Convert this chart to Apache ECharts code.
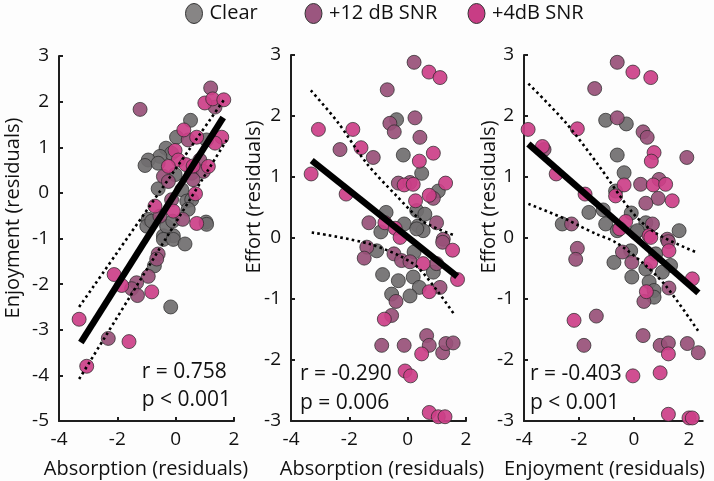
<!DOCTYPE html>
<html><head><meta charset="utf-8">
<script src="https://cdn.jsdelivr.net/npm/echarts@6/dist/echarts.min.js"></script>
<style>html,body{margin:0;padding:0;background:#fdfdfd;}#c{width:714px;height:481px;}</style>
</head><body><div id="c"></div>
<script>
// ---- categories / labels ----
const groups = ['Clear', '+12 dB SNR', '+4dB SNR'];
const xTicks = [-4, -2, 0, 2];
const yTicks1 = [-5, -4, -3, -2, -1, 0, 1, 2, 3];
const yTicks23 = [-3, -2, -1, 0, 1, 2, 3];
const xTitles = ['Absorption (residuals)', 'Absorption (residuals)', 'Enjoyment (residuals)'];
const yTitles = ['Enjoyment (residuals)', 'Effort (residuals)', 'Effort (residuals)'];
const statsR = ['r = 0.758', 'r = -0.290', 'r = -0.403'];
const statsP = ['p < 0.001', 'p = 0.006', 'p < 0.001'];

// ---- panel 1: Absorption vs Enjoyment ----
const p1Clear = [[0.51,1.59],[0.03,1.22],[1.06,1.16],[-0.33,0.98],[-0.14,0.87],[-0.54,0.8],[-0.94,0.72],[-1.05,0.60],[-0.6,0.65],[-0.02,0.4],[-0.6,0.09],[0.21,0.07],[0.38,-0.18],[0.55,-0.15],[0.43,-0.36],[-0.94,-0.58],[1.04,-0.64],[-0.99,-0.73],[-0.08,-0.94],[-0.42,-0.94],[-0.82,-0.62],[-0.31,-0.73],[-0.1,-0.62],[1.06,-0.69],[-0.42,-1.02],[-0.08,-1.02],[0.32,-1.12],[-0.73,-1.6],[-0.17,-2.5]];
const p1Mid = [[-1.22,1.83],[1.2,2.30],[1.35,1.88],[0.43,1.16],[0.83,0.72],[0.55,0.43],[0.95,0.47],[-0.42,0.36],[-0.25,0.25],[0.6,0.29],[-0.14,-0.15],[-0.54,-0.51],[0.24,-0.58],[-0.6,-1.34],[-0.65,-1.45],[-0.94,-1.83],[-1.34,-1.97],[-1.51,-2.1],[-1.31,-2.25],[-2.31,-3.19]];
const p1Low = [[1.0,1.97],[1.27,2.06],[1.65,2.04],[0.28,1.38],[0.72,1.22],[1.58,1.22],[1.35,1.09],[-0.02,0.93],[0.09,0.72],[-0.25,0.58],[0.35,0.62],[0.6,0.59],[1.12,0.58],[0.68,-0.02],[-0.71,-0.29],[-0.08,-0.40],[0.72,-0.67],[-2.11,-1.79],[-1.85,-2.03],[-0.82,-2.17],[-3.31,-2.77],[-1.6,-3.26],[-3.05,-3.80]];
const p1Fit = [[-3.25,-3.28],[1.63,1.65]];
const p1Upper = [[-3.31,-2.5],[1.69,2.07]];
const p1Lower = [[-3.31,-4.08],[1.75,1.16]];

// ---- panel 2: Absorption vs Effort ----
const p2Clear = [[-0.38,1.94],[-0.15,1.36],[0.48,1.06],[1.05,0.77],[0.31,0.45],[0.59,0.39],[-0.74,0.42],[-0.12,0.23],[0.36,0.2],[-0.92,0.10],[0.53,0.12],[0.31,0.15],[-1.06,-0.21],[0.22,-0.23],[0.88,-0.56],[-0.86,-0.6],[-0.32,-0.70],[0.19,-0.64],[0.4,-0.81],[-0.55,-0.92],[0.08,-0.95]];
const p2Mid = [[0.22,2.88],[-0.70,2.43],[0.25,1.97],[-0.61,1.88],[-0.46,1.74],[0.42,1.65],[-2.32,1.45],[-1.18,1.32],[-0.32,0.9],[0.08,0.91],[0.88,0.65],[-1.33,0.25],[0.99,0.25],[1.22,-0.02],[-1.4,-0.15],[-1.49,-0.33],[-0.47,-0.26],[-0.21,-0.37],[0.08,-0.39],[0.99,-0.42],[1.2,-0.07],[1.11,-0.81],[-0.4,-1.04],[-0.55,-1.27],[-0.89,-1.76],[-0.12,-1.76],[0.65,-1.6],[0.74,-1.76],[1.2,-1.88],[1.31,-1.73],[1.56,-1.72]];
const p2Low = [[0.73,2.72],[1.11,2.63],[-3.06,1.78],[-1.88,1.78],[-1.6,1.48],[0.88,1.39],[0.4,1.26],[-3.31,1.05],[-0.12,0.87],[0.19,0.88],[1.3,0.9],[-2.11,0.72],[0.74,0.70],[0.27,0.61],[-0.78,0.25],[-0.43,0.16],[-0.26,0.01],[0.53,-0.42],[1.54,-0.2],[1.71,-0.68],[0.74,-0.88],[-0.8,-1.33],[0.48,-1.9],[-0.09,-2.18],[0.1,-2.26],[0.74,-2.86],[1.05,-2.93],[1.28,-2.93]];
const p2Fit = [[-3.29,1.27],[1.70,-0.63]];
const p2Upper = [[-3.32,2.42],[-2.4,1.9],[-1.4,1.22],[-0.38,0.69],[0.53,0.27],[1.62,0.04]];
const p2Lower = [[-3.29,0.09],[-1.29,-0.10],[0.19,-0.42],[0.99,-0.85],[1.62,-1.27]];

// ---- panel 3: Enjoyment vs Effort ----
const p3Clear = [[-1.03,1.93],[-0.28,1.87],[-0.61,1.36],[-0.36,1.07],[-0.67,0.77],[-1.64,0.42],[-1.12,0.46],[-0.1,0.41],[-2.61,0.23],[-1.03,0.23],[0.43,0.25],[1.64,0.12],[-0.61,0.12],[0.06,0.09],[0.12,0.12],[-0.12,-0.21],[-0.73,-0.4],[0.79,-0.26],[1.33,-0.45],[0.43,-0.51],[1.03,-0.56],[-0.08,-0.64],[0.55,-0.72],[0.73,-0.86],[0.73,-0.97]];
const p3Mid = [[-0.61,2.88],[-1.43,2.45],[-0.61,1.97],[0.33,1.74],[0.48,1.65],[-3.27,1.45],[1.92,1.32],[0.91,0.96],[0.24,0.88],[0.88,0.65],[0.43,0.57],[-2.27,0.23],[0.67,0.23],[1.21,-0.02],[-2.06,-0.17],[-2.12,-0.35],[-0.42,-0.23],[1.25,-0.06],[-0.08,-0.4],[1.27,-0.82],[0.36,-1.04],[-1.37,-1.28],[-1.82,-1.76],[0.33,-1.6],[0.95,-1.76],[1.25,-1.72],[1.94,-1.73],[2.34,-1.88]];
const p3Low = [[-0.04,2.72],[0.61,2.63],[-3.85,1.78],[-2.06,1.79],[-3.33,1.5],[0.73,1.4],[0.63,1.26],[-2.83,1.05],[-0.36,0.87],[0.7,0.87],[1.15,0.88],[-1.78,0.72],[1.39,0.61],[-0.67,0.69],[-0.3,0.27],[0.55,0.04],[-0.52,0.15],[0.61,0.01],[1.27,-0.21],[0.61,-0.4],[2.12,-0.67],[0.45,-0.88],[-2.18,-1.35],[1.25,-1.9],[-0.04,-2.26],[0.95,-2.21],[1.25,-2.89],[2.0,-2.95],[2.12,-2.95]];
const p3Fit = [[-3.84,1.54],[2.34,-0.90]];
const p3Upper = [[-3.84,2.53],[-2.48,1.89],[-1.27,1.18],[-0.06,0.42],[0.79,0.08],[2.24,-0.23]];
const p3Lower = [[-3.84,0.56],[-2.48,0.31],[-2.0,0.2],[-1.39,0.07],[-0.67,-0.07],[0.30,-0.40],[1.15,-0.78],[2.36,-1.54]];

const panels = [
  {clear:p1Clear, mid:p1Mid, low:p1Low, fit:p1Fit, up:p1Upper, lo:p1Lower, xMin:-4, xMax:2, yMin:-5, yMax:3, yTicks:yTicks1},
  {clear:p2Clear, mid:p2Mid, low:p2Low, fit:p2Fit, up:p2Upper, lo:p2Lower, xMin:-4, xMax:2, yMin:-3, yMax:3, yTicks:yTicks23},
  {clear:p3Clear, mid:p3Mid, low:p3Low, fit:p3Fit, up:p3Upper, lo:p3Lower, xMin:-4, xMax:2.5, yMin:-3, yMax:3, yTicks:yTicks23}
];

// ---- styling ----
const FONT = '"Open Sans", "Noto Sans", sans-serif';
const colors = ['#706e6f', '#985078', '#cc3f88'];
const legendColors = ['#878585', '#9b567f', '#c83d85'];
const grids = [
  {left:59, top:56, width:175, height:365},
  {left:291, top:55, width:175, height:366},
  {left:524, top:55, width:178.75, height:366}
];
const axisLineStyle = {color:'#1e1e1e', width:2};

const xAxes = [], yAxes = [], series = [];
panels.forEach((p, i) => {
  xAxes.push({
    type:'value', gridIndex:i, min:p.xMin, max:p.xMax, interval:2,
    axisLine:{show:true, onZero:false, lineStyle:axisLineStyle},
    axisTick:{show:true, inside:true, length:4, lineStyle:axisLineStyle, customValues:xTicks},
    axisLabel:{fontSize:19, color:'#111', margin:9, fontFamily:FONT, customValues:xTicks},
    splitLine:{show:false}
  });
  yAxes.push({
    type:'value', gridIndex:i, min:p.yMin, max:p.yMax, interval:1,
    axisLine:{show:true, onZero:false, lineStyle:axisLineStyle},
    axisTick:{show:true, inside:true, length:4, lineStyle:axisLineStyle, customValues:p.yTicks},
    axisLabel:{fontSize:19, color:'#111', margin:10, fontFamily:FONT, customValues:p.yTicks},
    splitLine:{show:false}
  });
  [p.clear, p.mid, p.low].forEach((d, g) => {
    series.push({
      type:'scatter', name:groups[g], xAxisIndex:i, yAxisIndex:i, data:d,
      symbol:'circle', symbolSize:14, z:2+g,
      itemStyle:{color:colors[g], borderColor:'#2a2a2a', borderWidth:0.8, opacity:0.92}
    });
  });
  series.push({type:'line', name:'fit'+i, xAxisIndex:i, yAxisIndex:i, data:p.fit, symbol:'none', z:10,
    lineStyle:{color:'#000', width:6.5}});
  [p.up, p.lo].forEach((d, k) => {
    series.push({type:'line', name:'ci'+i+'_'+k, xAxisIndex:i, yAxisIndex:i, data:d, symbol:'none', smooth:0.3, z:10,
      lineStyle:{color:'#000', width:2.6, type:[2.6,3.2]}});
  });
});

const ellipse = 'path://M0,10a8.5,10 0 1,0 17,0a8.5,10 0 1,0 -17,0z';
const legendLefts = [185, 304.5, 467.5];
const legends = groups.map((g, k) => ({
  data:[{name:g, itemStyle:{color:legendColors[k], borderColor:'#333', borderWidth:1, opacity:1}}],
  left:legendLefts[k], top:3, padding:0, icon:ellipse, itemWidth:17, itemHeight:20, itemGap:5,
  textStyle:{fontSize:20, color:'#111', fontFamily:FONT, padding:[0,0,0,2]},
  selectedMode:false
}));

const xTitlePos = [[146,469],[382,469],[604.5,469]];
const yTitlePos = [[13,218],[254,197],[489,197]];
const statPos = [[141.7,371.7,400],[300,374,402.7],[530,374,402.7]];
const graphic = [];
for (let i = 0; i < 3; i++) {
  graphic.push({type:'text', x:xTitlePos[i][0], y:xTitlePos[i][1],
    style:{text:xTitles[i], font:'20px '+FONT, fill:'#111', align:'center', verticalAlign:'middle', textAlign:'center', textVerticalAlign:'middle'}});
  graphic.push({type:'text', x:yTitlePos[i][0], y:yTitlePos[i][1], rotation:Math.PI/2,
    style:{text:yTitles[i], font:'20px '+FONT, fill:'#111', align:'center', verticalAlign:'middle', textAlign:'center', textVerticalAlign:'middle'}});
  graphic.push({type:'text', x:statPos[i][0], y:statPos[i][1],
    style:{text:statsR[i], font:'21px '+FONT, fill:'#111', align:'left', verticalAlign:'middle', textAlign:'left', textVerticalAlign:'middle'}});
  graphic.push({type:'text', x:statPos[i][0], y:statPos[i][2],
    style:{text:statsP[i], font:'21px '+FONT, fill:'#111', align:'left', verticalAlign:'middle', textAlign:'left', textVerticalAlign:'middle'}});
}

const chart = echarts.init(document.getElementById('c'), null, {renderer:'canvas'});
chart.setOption({
  animation:false,
  backgroundColor:'#fdfdfd',
  legend:legends,
  grid:grids,
  xAxis:xAxes,
  yAxis:yAxes,
  series:series,
  graphic:graphic
});
</script></body></html>
